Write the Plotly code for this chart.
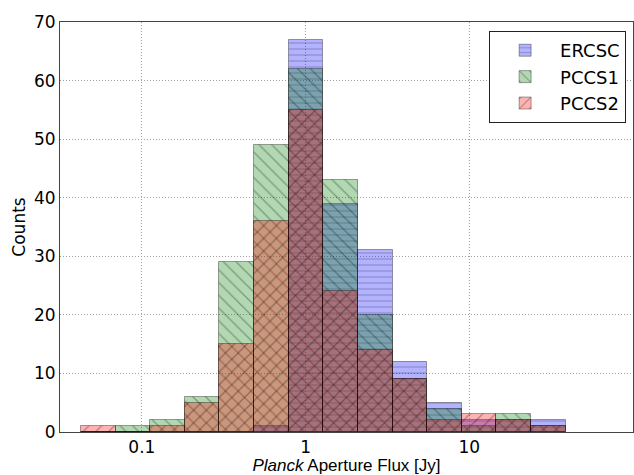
import numpy as np
import plotly.graph_objects as go

# Bin edges (Jy), logarithmic bins
bin_edges_jy = [0.04246, 0.06910, 0.1125, 0.1831, 0.2979, 0.4848, 0.7889,
                1.284, 2.089, 3.400, 5.534, 9.005, 14.66, 23.85, 38.82]

# Counts per bin
ercsc = [0, 0, 0, 0, 0, 1, 67, 39, 31, 12, 5, 2, 2, 2]
pccs1 = [0, 1, 2, 6, 29, 49, 62, 43, 20, 9, 4, 1, 3, 1]
pccs2 = [1, 0, 1, 5, 15, 36, 55, 24, 14, 9, 2, 3, 2, 1]

series_names = ["ERCSC", "PCCS1", "PCCS2"]

tick_vals_jy = [0.1, 1, 10]
tick_text = ["0.1", "1", "10"]

log_edges = np.log10(bin_edges_jy)
centers = (log_edges[:-1] + log_edges[1:]) / 2
widths = log_edges[1:] - log_edges[:-1]

styles = [
    dict(fill="rgba(0,0,255,0.3)", shape="-", size=6),
    dict(fill="rgba(0,128,0,0.3)", shape="\\", size=9),
    dict(fill="rgba(255,0,0,0.3)", shape="/", size=9),
]

fig = go.Figure()
for name, vals, st in zip(series_names, [ercsc, pccs1, pccs2], styles):
    fig.add_trace(go.Bar(
        x=centers, y=vals, width=widths, name=name,
        marker=dict(
            color=st["fill"],
            line=dict(color="rgba(0,0,0,0.35)", width=1),
            pattern=dict(shape=st["shape"], fgcolor="black", fgopacity=0.3,
                         size=st["size"], solidity=0.14, fillmode="overlay"),
        ),
    ))

font_main = "DejaVu Sans"
grid_dash = "1px,2px"
fig.update_layout(
    width=634, height=475,
    margin=dict(l=60, r=1, t=22, b=43),
    barmode="overlay",
    bargap=0,
    plot_bgcolor="white",
    paper_bgcolor="white",
    font=dict(family=font_main, size=17, color="black"),
    showlegend=True,
    legend=dict(
        x=0.988, y=0.978, xanchor="right", yanchor="top",
        bgcolor="white", bordercolor="#222", borderwidth=1,
        font=dict(family=font_main, size=18),
        itemwidth=60, tracegroupgap=0,
    ),
    xaxis=dict(
        range=[-1.5, 2.0],
        tickvals=list(np.log10(tick_vals_jy)), ticktext=tick_text,
        showgrid=True, gridcolor="#a0a0a0", griddash=grid_dash, gridwidth=1,
        showline=True, linecolor="#444", linewidth=1, mirror=True,
        ticks="", zeroline=False, automargin=False,
        title=dict(text="<i>Planck</i> Aperture Flux [Jy]",
                   font=dict(family="Liberation Sans", size=17), standoff=4),
        tickfont=dict(size=17),
    ),
    yaxis=dict(
        range=[0, 70], dtick=10,
        showgrid=True, gridcolor="#a0a0a0", griddash=grid_dash, gridwidth=1,
        showline=True, linecolor="#444", linewidth=1, mirror=True,
        ticks="", zeroline=False, automargin=False,
        title=dict(text="Counts", font=dict(size=17), standoff=4),
        tickfont=dict(size=17),
    ),
)

fig.write_html("out.html", config={"displayModeBar": False},
               post_script="document.body.style.margin='0';")
